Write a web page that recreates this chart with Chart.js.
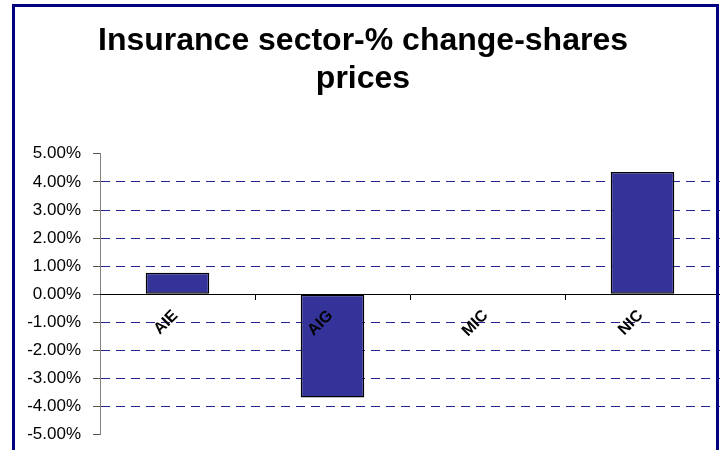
<!DOCTYPE html>
<html>
<head>
<meta charset="utf-8">
<script src="https://cdn.jsdelivr.net/npm/chart.js@4.4.1/dist/chart.umd.min.js"></script>
<style>
  html, body { margin: 0; padding: 0; background: #fff; overflow: hidden; }
  #wrap { position: relative; width: 720px; height: 450px; overflow: hidden; }
  #frame { position: absolute; left: 12px; top: 4px; width: 707px; height: 470px;
           border: 3px solid #000080; box-sizing: border-box; pointer-events: none; }
</style>
</head>
<body>
<div id="wrap">
  <!-- canvas runs a bit past the bottom edge, the source picture is cropped there too -->
  <canvas id="myChart" width="720" height="457"></canvas>
  <div id="frame"></div>
</div>
<script>
(function () {
  'use strict';

  // data
  const titleLines = ['Insurance sector-% change-shares', 'prices'];
  const companies = ['AIE', 'AIG', 'MIC', 'NIC'];
  const changePct = [0.77, -3.67, 0, 4.35];
  const yMin = -5, yMax = 5, yStep = 1;

  const navy = '#333399';

  var ctx = document.getElementById('myChart').getContext('2d');
  var chart = new Chart(ctx, {
    type: 'bar',
    data: {
      labels: companies,
      datasets: [{
        data: changePct,
        backgroundColor: navy,
        borderColor: '#000000',
        borderWidth: 1.5,
        borderSkipped: false,
        barPercentage: 0.41,
        categoryPercentage: 1
      }]
    },
    options: {
      responsive: false,
      animation: false,
      layout: { padding: { left: 6, right: 0, top: 0, bottom: 0 } },
      plugins: {
        legend: { display: false },
        tooltip: { enabled: false },
        title: {
          display: true,
          text: titleLines,
          color: '#000',
          font: { family: '"Liberation Sans", Arial, sans-serif', size: 32, weight: 'bold', lineHeight: 1.2 },
          padding: { top: 22, bottom: 55 }
        }
      },
      scales: {
        x: {
          // category axis sits on the zero line, labels drawn over the bars
          position: { y: 0 },
          grid: {
            offset: true,
            drawOnChartArea: false,
            tickLength: 5,
            color: '#000'
          },
          border: { display: true, color: '#000', width: 1, z: 1 },
          ticks: {
            z: 1,
            autoSkip: false,
            minRotation: 45,
            maxRotation: 45,
            labelOffset: -2,
            padding: 7,
            color: '#000',
            font: { family: '"Liberation Sans", Arial, sans-serif', size: 16, weight: 'bold' }
          }
        },
        y: {
          min: yMin,
          max: yMax,
          afterFit: function (scale) { scale.width = 94; },
          grid: {
            color: function (c) {
              const v = c.tick ? c.tick.value : 0;
              if (v === 0 || v === yMin || v === yMax) return 'rgba(0,0,0,0)';
              return '#23238c';
            },
            tickColor: '#555',
            tickLength: 7,
            lineWidth: 1
          },
          border: { display: true, color: '#808080', width: 1, dash: [9, 6] },
          ticks: {
            stepSize: yStep,
            padding: 12,
            color: '#000',
            font: { family: '"Liberation Sans", Arial, sans-serif', size: 17 },
            callback: function (v) { return Number(v).toFixed(2) + '%'; }
          }
        }
      }
    }
  });
})();
</script>
</body>
</html>
